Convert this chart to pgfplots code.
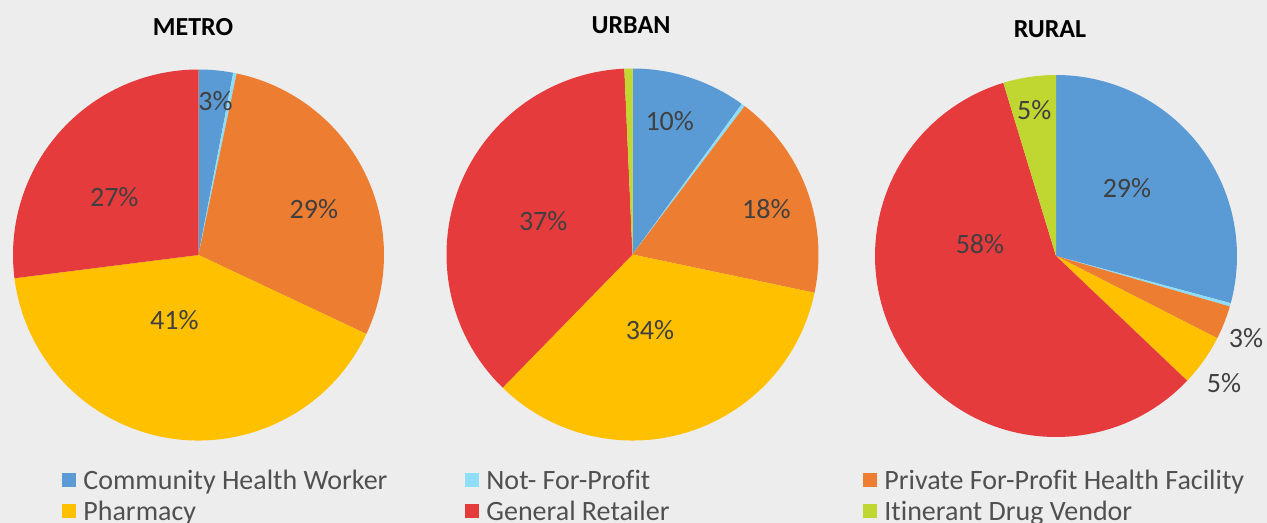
\documentclass[border=0pt]{standalone}
\usepackage{pgfplots}
\usepackage{pgfplotstable}
\pgfplotsset{compat=1.18}
\usepackage{fontspec}
\setmainfont{Carlito}[Ligatures=NoCommon]
\definecolor{bg}{HTML}{EDEDED}
\definecolor{cchw}{HTML}{5B9BD5}
\definecolor{cnfp}{HTML}{8EDEF9}
\definecolor{cpfp}{HTML}{ED7D31}
\definecolor{cph}{HTML}{FFC000}
\definecolor{cgr}{HTML}{E63B3D}
\definecolor{cidv}{HTML}{BFD730}
\definecolor{lbltext}{HTML}{404040}
\definecolor{legtext}{HTML}{505050}

% value = share in percent, lx/ly = label position in pie radii, lbl = printed label (0 = none)
\pgfplotstableread{
value col lx ly lbl
3    cchw  0.092  0.832 3
0.3  cnfp  0      0     0
28.7 cpfp  0.622  0.249 29
41   cph  -0.130 -0.351 41
27   cgr  -0.454  0.314 27
0    cidv  0      0     0
}\metro
\pgfplotstableread{
value col lx ly lbl
10   cchw  0.200  0.720 10
0.3  cnfp  0      0     0
18   cpfp  0.720  0.245 18
34   cph   0.094 -0.406 34
37   cgr  -0.480  0.180 37
0.7  cidv  0      0     0
}\urban
\pgfplotstableread{
value col lx ly lbl
29.2 cchw  0.392  0.376 29
0.3  cnfp  0      0     0
3    cpfp  1.050 -0.453 3
4.6  cph   0.928 -0.700 5
58.2 cgr  -0.420  0.066 58
4.7  cidv -0.120  0.807 5
}\rural

% #1 table, #2 cx (px), #3 cy (px from top), #4 radius (px)
\newcommand\drawpie[4]{%
\pgfplotsextra{%
  \pgfmathsetmacro\cy{523-#3}%
  \pgfmathsetlengthmacro\R{#4*0.5bp}%
  \xdef\cum{90}%
  \pgfplotstablegetrowsof{#1}%
  \pgfmathtruncatemacro\nlast{\pgfplotsretval-1}%
  \foreach \i in {0,...,\nlast}{%
    \pgfplotstablegetelem{\i}{value}\of{#1}\let\v\pgfplotsretval
    \pgfplotstablegetelem{\i}{col}\of{#1}\let\c\pgfplotsretval
    \pgfmathsetmacro\a{\cum}%
    \pgfmathsetmacro\b{\cum-\v*3.6}%
    \fill[fill=\c] (axis cs:#2,\cy) -- ++(\a:\R) arc[start angle=\a, end angle=\b, radius=\R] -- cycle;
    \xdef\cum{\b}%
  }%
  \foreach \i in {0,...,\nlast}{%
    \pgfplotstablegetelem{\i}{lbl}\of{#1}\let\l\pgfplotsretval
    \pgfplotstablegetelem{\i}{lx}\of{#1}\let\lx\pgfplotsretval
    \pgfplotstablegetelem{\i}{ly}\of{#1}\let\ly\pgfplotsretval
    \pgfmathsetmacro\px{#2+\lx*#4}%
    \pgfmathsetmacro\py{\cy+\ly*#4}%
    \ifnum\l>0
      \node[text=lbltext, font=\fontsize{14bp}{16bp}\selectfont, inner sep=0pt] at (axis cs:\px,\py) {\l\%};
    \fi
  }%
}}

\newcommand\legitem[4]{% x of square, y baseline (px from top), color, text
  \pgfplotsextra{%
    \pgfmathsetmacro\ya{523-#2+2}%
    \pgfmathsetmacro\yb{523-#2+16}%
    \pgfmathsetmacro\xb{#1+14}%
    \pgfmathsetmacro\xt{#1+21}%
    \pgfmathsetmacro\yt{523-#2}%
    \fill[#3] (axis cs:#1,\ya) rectangle (axis cs:\xb,\yb);
    \node[anchor=base west, inner sep=0pt, text=legtext, font=\fontsize{14bp}{16bp}\selectfont] at (axis cs:\xt,\yt) {#4};
  }}

\begin{document}
\begin{tikzpicture}
\useasboundingbox (0,0) rectangle (633.5bp,261.5bp);
\begin{axis}[at={(0,0)}, anchor=south west, width=633.5bp, height=261.5bp,
  scale only axis, xmin=0, xmax=1267, ymin=0, ymax=523, hide axis, clip=false]
\fill[bg] (axis cs:0,0) rectangle (axis cs:1267,523);
\drawpie{\metro}{198.5}{255}{185.5}
\drawpie{\urban}{632.5}{254.5}{186}
\drawpie{\rural}{1056}{256}{181}
\node[anchor=base, inner sep=0pt, font=\fontsize{13bp}{15bp}\selectfont\bfseries] at (axis cs:193,{523-35.5}) {METRO};
\node[anchor=base, inner sep=0pt, font=\fontsize{13bp}{15bp}\selectfont\bfseries] at (axis cs:631,{523-33.5}) {URBAN};
\node[anchor=base, inner sep=0pt, font=\fontsize{13bp}{15bp}\selectfont\bfseries] at (axis cs:1050,{523-37.5}) {RURAL};
\legitem{62}{489}{cchw}{Community Health Worker}
\legitem{465}{489}{cnfp}{Not- For-Profit}
\legitem{863}{489}{cpfp}{Private For-Profit Health Facility}
\legitem{62}{520}{cph}{Pharmacy}
\legitem{465}{520}{cgr}{General Retailer}
\legitem{863}{520}{cidv}{Itinerant Drug Vendor}
\end{axis}
\end{tikzpicture}
\end{document}
